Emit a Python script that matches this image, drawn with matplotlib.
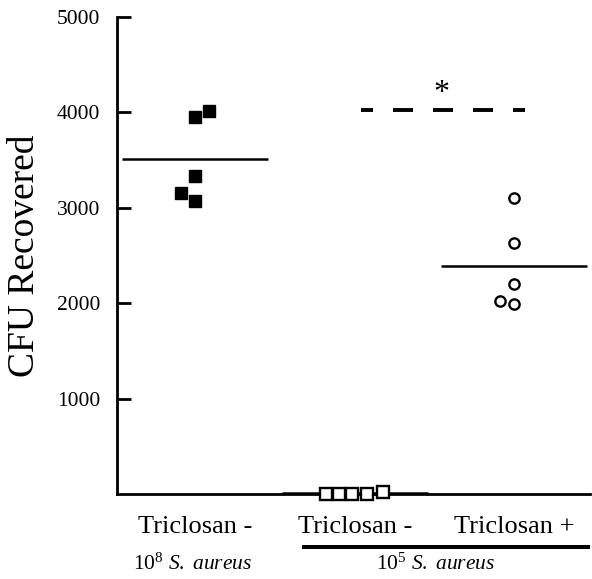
import matplotlib
matplotlib.use("Agg")
import matplotlib.pyplot as plt
import numpy as np

plt.rcParams['font.family'] = ['Liberation Serif', 'DejaVu Serif']
plt.rcParams['mathtext.fontset'] = 'custom'
plt.rcParams['mathtext.rm'] = 'Liberation Serif'
plt.rcParams['mathtext.it'] = 'Liberation Serif:italic'
plt.rcParams['lines.scale_dashes'] = False

# ---- data ----
categories = ["Triclosan -", "Triclosan -", "Triclosan +"]
group_labels = [r"10$^{8}$ $\it{S.\ aureus}$", r"10$^{5}$ $\it{S.\ aureus}$"]
high_inoc_untreated = [3955, 4018, 3337, 3158, 3071]
low_inoc_untreated = [5, 5, 5, 5, 20]
low_inoc_triclosan = [3106, 2634, 2201, 2023, 1988]
mean_values = [3508, 8, 2390]
significance_level = 4025
yticks = [1000, 2000, 3000, 4000, 5000]
ylabel = "CFU Recovered"

# ---- layout (jitter offsets, not data) ----
jit1 = [0.0, 0.088, 0.0, -0.088, 0.0]
jit2 = [-0.18, -0.10, -0.02, 0.075, 0.18]
jit3 = [0.0, 0.0, 0.0, -0.088, 0.0]

fig = plt.figure(figsize=(5.92, 5.79), dpi=100)
ax = fig.add_axes([117/592, 85/579, 473/592, 477/579])

ax.plot(np.array(jit1) + 1, high_inoc_untreated, 's', color='black', ms=8.8,
        mec='black', clip_on=False, zorder=3)
ax.plot(np.array(jit2) + 2, low_inoc_untreated, 's', mfc='white', mec='black',
        ms=8.8, mew=1.7, clip_on=False, zorder=4)
ax.plot(np.array(jit3) + 3, low_inoc_triclosan, 'o', mfc='white', mec='black',
        ms=7.4, mew=1.7, clip_on=False, zorder=3)

for i, m in enumerate(mean_values):
    ax.plot([i + 1 - 0.457, i + 1 + 0.457], [m, m], color='black', lw=1.8,
            solid_capstyle='butt', clip_on=False, zorder=2)

ax.plot([2.038, 3.063], [significance_level, significance_level],
        color='black', lw=2.8, clip_on=False, solid_capstyle='butt',
        dash_capstyle='butt', linestyle=(5.76, (14.4, 14.4)))
ax.text(2.545, 4200, "*", ha='center', va='center', fontsize=23)

ax.set_xlim(0.512, 3.473)
ax.set_ylim(0, 5000)
ax.set_yticks(yticks)
ax.set_yticklabels([str(v) for v in yticks], fontsize=15.5)
ax.tick_params(axis='y', direction='in', length=10, width=2, pad=12)
ax.set_xticks([])
for s in ['top', 'right']:
    ax.spines[s].set_visible(False)
for s in ['left', 'bottom']:
    ax.spines[s].set_linewidth(2)

ax.set_ylabel(ylabel, fontsize=27)
ax.yaxis.set_label_coords(-0.158, 0.5)

xf = ax.get_xaxis_transform()
for i, c in enumerate(categories):
    ax.annotate(c, xy=(i + 1, 0), xycoords=xf, xytext=(0, -28),
                textcoords='offset points', ha='center', va='baseline',
                fontsize=19)
ax.annotate(group_labels[0], xy=(0.985, 0), xycoords=xf, xytext=(0, -54.7),
            textcoords='offset points', ha='center', va='baseline', fontsize=15.5)
ax.annotate(group_labels[1], xy=(2.51, 0), xycoords=xf, xytext=(0, -54.7),
            textcoords='offset points', ha='center', va='baseline', fontsize=15.5)
ax.plot([1.668, 3.473], [-0.111, -0.111], transform=xf, clip_on=False,
        color='black', lw=2.9, solid_capstyle='butt')

fig.savefig("out.png", dpi=100)
